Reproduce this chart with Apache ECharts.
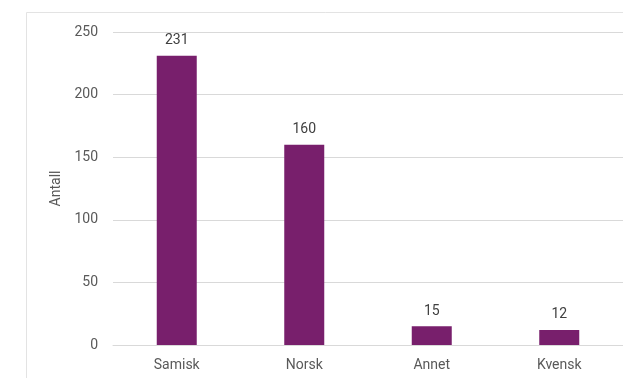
<!DOCTYPE html>
<html>
<head>
<meta charset="utf-8">
<script src="https://cdn.jsdelivr.net/npm/echarts@6/dist/echarts.min.js"></script>
<style>
html,body{margin:0;padding:0;background:#fff;}
#c{width:623px;height:378px;}
</style>
</head>
<body>
<div id="c"></div>
<script>
const categories = ["Samisk", "Norsk", "Annet", "Kvensk"];
const values = [231, 160, 15, 12];
const yTicks = [0, 50, 100, 150, 200, 250];
const yName = "Antall";

const FONT = 'Roboto, sans-serif';
const chart = echarts.init(document.getElementById('c'), null, {renderer: 'canvas'});
chart.setOption({
  animation: false,
  backgroundColor: '#fff',
  graphic: [{
    type: 'rect',
    shape: {x: 26.5, y: 12.5, width: 700, height: 500},
    style: {fill: 'none', stroke: '#e3e3e3', lineWidth: 1},
    z: -1
  }],
  grid: {left: 113, right: -10, top: 32, bottom: 33, containLabel: false},
  xAxis: {
    type: 'category',
    data: categories,
    axisTick: {show: false},
    axisLine: {show: true, lineStyle: {color: '#d9d9d9', width: 1}},
    axisLabel: {color: '#595959', fontSize: 14, fontFamily: FONT, margin: 13}
  },
  yAxis: {
    type: 'value',
    min: yTicks[0],
    max: yTicks[yTicks.length - 1],
    interval: 50,
    name: yName,
    nameLocation: 'middle',
    nameGap: 48,
    nameRotate: 90,
    nameTextStyle: {color: '#595959', fontSize: 14, fontFamily: FONT},
    axisLine: {show: false},
    axisTick: {show: false},
    splitLine: {lineStyle: {color: '#d9d9d9', width: 1}},
    axisLabel: {color: '#595959', fontSize: 14, fontFamily: FONT, margin: 15}
  },
  series: [{
    type: 'bar',
    data: values,
    barWidth: 40,
    itemStyle: {color: '#781f6c'},
    label: {
      show: true,
      position: 'top',
      distance: 8,
      color: '#404040',
      fontSize: 14,
      fontFamily: FONT
    }
  }]
});
</script>
</body>
</html>
